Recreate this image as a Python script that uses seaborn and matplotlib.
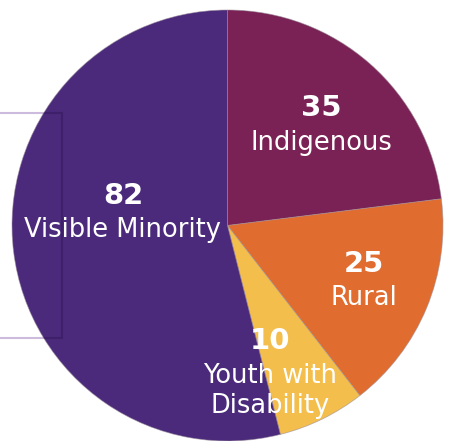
import matplotlib
matplotlib.use("Agg")
import matplotlib.pyplot as plt
import matplotlib.patches as mpatches
import seaborn as sns

# Chart data
groups = ["Indigenous", "Rural", "Youth with\nDisability", "Visible Minority"]
counts = [35, 25, 10, 82]
colors = sns.color_palette(["#7A2155", "#E06C2F", "#F3BE4C", "#4B2A7B"])

# label anchor points (data units, pie radius = 1)
number_pos = [(0.435, 0.545), (0.635, -0.180), (0.197, -0.535), (-0.485, 0.137)]
name_pos = [(0.435, 0.385), (0.635, -0.335), (0.197, -0.768), (-0.485, -0.022)]

sns.set_style("white")
plt.rcParams["font.family"] = ["DejaVu Sans"]

fig = plt.figure(figsize=(4.49, 4.41), dpi=100)
ax = fig.add_axes([0, 0, 1, 1])

wedges, _ = ax.pie(counts, colors=colors, startangle=90, counterclock=False, radius=1,
                   wedgeprops=dict(edgecolor=(0.6, 0.55, 0.6, 0.6), linewidth=0.6))

# faint panel box behind the left side: lavender outside the pie, darker over it
box_xy, box_w, box_h = (-1.15, -0.522), 0.382, 1.044
ax.add_patch(mpatches.Rectangle(box_xy, box_w, box_h, facecolor="none",
                                edgecolor="#CDBBDD", linewidth=1.5, zorder=0))
over = mpatches.Rectangle(box_xy, box_w, box_h, facecolor="none",
                          edgecolor=(0.15, 0.05, 0.3, 0.35), linewidth=1.5, zorder=3)
ax.add_patch(over)
over.set_clip_path(wedges[3])

for n, (x, y) in zip(counts, number_pos):
    ax.text(x, y, str(n), ha="center", va="center", color="white",
            fontsize=21, fontweight="bold", zorder=5)
for g, (x, y) in zip(groups, name_pos):
    ax.text(x, y, g, ha="center", va="center", color="white",
            fontsize=18.5, linespacing=1.2, zorder=5)

ax.set_xlim(-227.5 / 215.5, (449 - 227.5) / 215.5)
ax.set_ylim(-(441 - 225.5) / 215.5, 225.5 / 215.5)
ax.set_aspect("equal")
ax.axis("off")

fig.savefig("out.png", dpi=100)
